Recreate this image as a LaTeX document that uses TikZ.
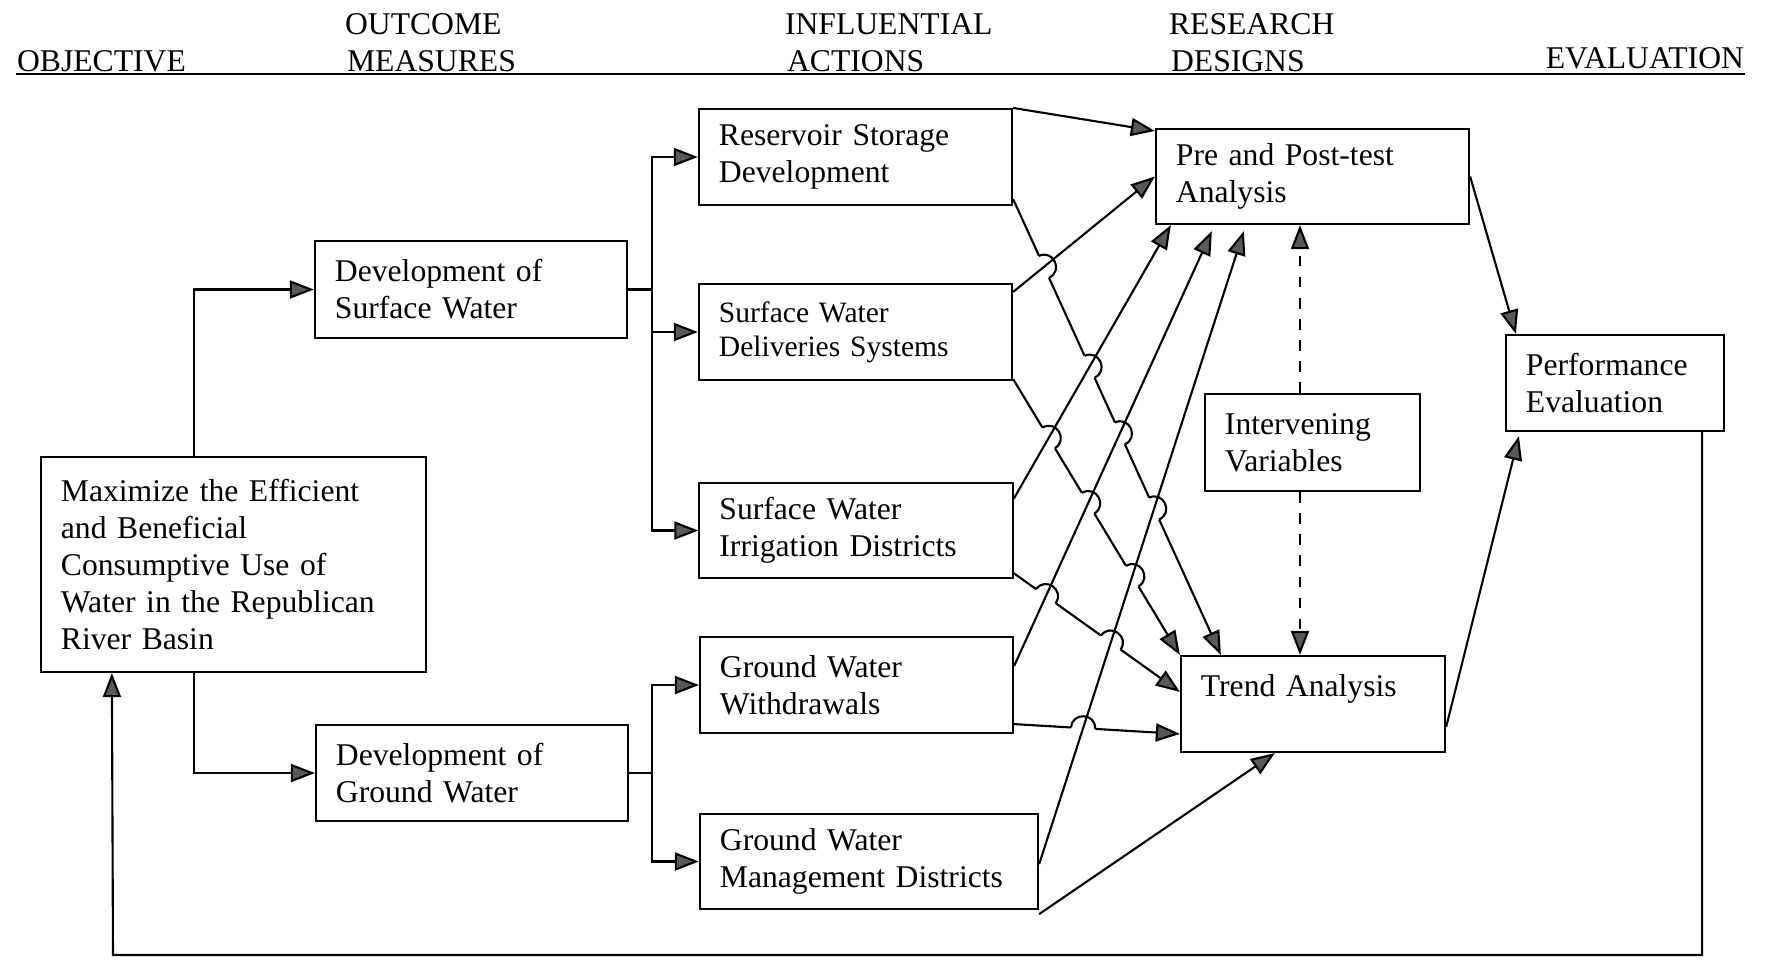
\documentclass[tikz,border=0pt]{standalone}
\usepackage{fontspec}
\setmainfont{Liberation Serif}
\usetikzlibrary{arrows.meta,calc,intersections}
\newcommand{\Dfont}{\fontsize{9.0}{10.5}\selectfont}
\newcommand{\Dsmall}{\fontsize{8.4}{9.6}\selectfont}
\tikzset{
    >={Triangle[length=0.24cm,width=0.18cm,fill=black!65]},
    every edge/.append style={semithick},
    box/.style={draw,semithick,align=left,inner xsep=0.2cm,inner ysep=0pt,font=\Dfont},
    wbox/.style={box,text width=2.73cm,minimum height=0.96cm},
    head/.style={inner sep=0pt,font=\Dfont},
    elbow/.style={to path={|- (\tikztotarget)}},
    hop/.style={bend left=90,looseness=1.7},
}

\begin{document}
\begin{tikzpicture}[x=0.01cm,y=-0.01cm,semithick]
    \useasboundingbox (0,0) rectangle (1769,959);

    \node[head,anchor=base west] (hobj)  at (16,71)   {OBJECTIVE};
    \node[head,anchor=base west] (hout)  at (344,34)  {OUTCOME};
    \node[head,anchor=base west] (hmea)  at (346,71)  {MEASURES};
    \node[head,anchor=base west] (hinf)  at (784,34)  {INFLUENTIAL};
    \node[head,anchor=base west] (hact)  at (786,71)  {ACTIONS};
    \node[head,anchor=base west] (hres)  at (1168,34) {RESEARCH};
    \node[head,anchor=base west] (hdes)  at (1170,71) {DESIGNS};
    \node[head,anchor=base east] (heval) at (1745,68) {EVALUATION};
    \draw (16,74) -- (1745,74);

    \node[box,text width=3.45cm,minimum height=2.15cm] (goal) at (233.5,564.5)
        {Maximize the Efficient\\ and Beneficial\\ Consumptive Use of\\ Water in the Republican\\ River Basin};
    \node[box,text width=2.72cm,minimum height=0.97cm] (devsw) at (471,289.5) {Development of\\ Surface Water};
    \node[box,text width=2.72cm,minimum height=0.96cm] (devgw) at (472,773) {Development of\\ Ground Water};

    \node[wbox] (res) at (855.5,157) {Reservoir Storage\\ Development};
    \node[wbox,font=\Dsmall] (dlv) at (855.5,332) {Surface Water\\ Deliveries Systems};
    \node[wbox,minimum height=0.95cm] (irr) at (856,530.5) {Surface Water\\ Irrigation Districts};
    \node[wbox] (wdr) at (856.5,685) {Ground Water\\ Withdrawals};
    \node[box,text width=2.98cm,minimum height=0.95cm] (mgd) at (869,861.5) {Ground Water\\ Management Districts};

    \node[wbox,minimum height=0.95cm] (pre) at (1312.5,176.5) {Pre and Post-test\\ Analysis};
    \node[box,text width=1.75cm,minimum height=0.97cm] (ivar) at (1312.5,442.5) {Intervening\\ Variables};
    \node[box,text width=2.24cm,minimum height=0.96cm] (trend) at (1313,704) {Trend Analysis\\ \mbox{}};
    \node[box,text width=1.78cm,minimum height=0.96cm] (perf) at (1615,383) {Performance\\ Evaluation};

    \draw[->] ([xshift=1.54cm]goal.north west) |- (devsw.west);
    \draw[->] ([xshift=1.54cm]goal.south west) |- (devgw.west);

    \coordinate (swj) at ($(devsw.east)+(24,0)$);
    \coordinate (gwj) at ($(devgw.east)+(23,0)$);
    \draw (devsw.east) -- (swj);
    \draw (devgw.east) -- (gwj);
    \path[->] (swj) edge[elbow] (res.west)
                    edge[elbow] (dlv.west)
                    edge[elbow] (irr.west);
    \path[->] (gwj) edge[elbow] (wdr.west)
                    edge[elbow] (mgd.west);

    \coordinate (rs1-a) at (res.north east);
    \coordinate (rs1-b) at ($(pre.north west)+(0,3)$);
    \coordinate (rs2-a) at ($(res.south east)+(0,-7)$);
    \coordinate (rs2-b) at ($(trend.north west)+(41,0)$);
    \coordinate (dl1-a) at ($(dlv.north east)+(0,9)$);
    \coordinate (dl1-b) at (pre.west);
    \coordinate (dl2-a) at ($(dlv.south east)+(0,-2)$);
    \coordinate (dl2-b) at (trend.north west);
    \coordinate (ir1-a) at ($(irr.north east)+(0,17)$);
    \coordinate (ir1-b) at ($(pre.south west)+(16,0)$);
    \coordinate (ir2-a) at ($(irr.south east)+(0,-6)$);
    \coordinate (ir2-b) at ($(trend.north west)+(0,37)$);
    \coordinate (wd1-a) at ($(wdr.north east)+(0,30)$);
    \coordinate (wd1-b) at ($(pre.south west)+(57,6)$);
    \coordinate (wd2-a) at ($(wdr.south east)+(0,-10)$);
    \coordinate (wd2-b) at ($(trend.north west)+(0,79)$);
    \coordinate (mg1-a) at ($(mgd.south east)+(0,-46)$);
    \coordinate (mg1-b) at ($(pre.south west)+(89,6)$);
    \coordinate (mg2-a) at ($(mgd.south east)+(0,4)$);
    \coordinate (mg2-b) at ($(trend.south west)+(95,0)$);

    \path[name path=dl1] (dl1-a) -- (dl1-b);
    \path[name path=ir1] (ir1-a) -- (ir1-b);
    \path[name path=wd1] (wd1-a) -- (wd1-b);
    \path[name path=mg1] (mg1-a) -- (mg1-b);

    \draw[->,name path=rs2] (rs2-a) -- (rs2-b);
    \draw[->,name path=dl2] (dl2-a) -- (dl2-b);
    \draw[->,name path=ir2] (ir2-a) -- (ir2-b);
    \draw[->,name path=wd2] (wd2-a) -- (wd2-b);

    \foreach \dn/\up in {rs2/dl1,rs2/ir1,rs2/wd1,rs2/mg1,dl2/ir1,dl2/wd1,dl2/mg1,ir2/wd1,ir2/mg1,wd2/mg1}{
        \path[name intersections/.expanded={of=\dn\space and \up,by=hx}];
        \draw[white,line width=2.4pt] ($(hx)!0.12cm!(\dn-a)$) -- ($(hx)!0.12cm!(\dn-b)$);
        \draw ($(hx)!0.12cm!(\dn-a)$) to[hop] ($(hx)!0.12cm!(\dn-b)$);
    }

    \draw[->] (rs1-a) -- (rs1-b);
    \draw[->] (dl1-a) -- (dl1-b);
    \draw[->] (ir1-a) -- (ir1-b);
    \draw[->] (wd1-a) -- (wd1-b);
    \draw[->] (mg1-a) -- (mg1-b);
    \draw[->] (mg2-a) -- (mg2-b);

    \draw[dashed,->] ([xshift=-0.125cm]ivar.north) -- ([xshift=-0.125cm]ivar.north |- pre.south);
    \draw[dashed,->] ([xshift=-0.125cm]ivar.south) -- ([xshift=-0.125cm]ivar.south |- trend.north);

    \draw[->] (pre.east) -- ($(perf.north west)+(11,0)$);
    \draw[->] ($(trend.east)+(0,23)$) -- ($(perf.south west)+(14,4)$);

    \coordinate (fbl) at (113,955);
    \draw[->] ([xshift=-0.23cm]perf.south east) |- (fbl) -- ([xshift=0.72cm]goal.south west);
\end{tikzpicture}
\end{document}
